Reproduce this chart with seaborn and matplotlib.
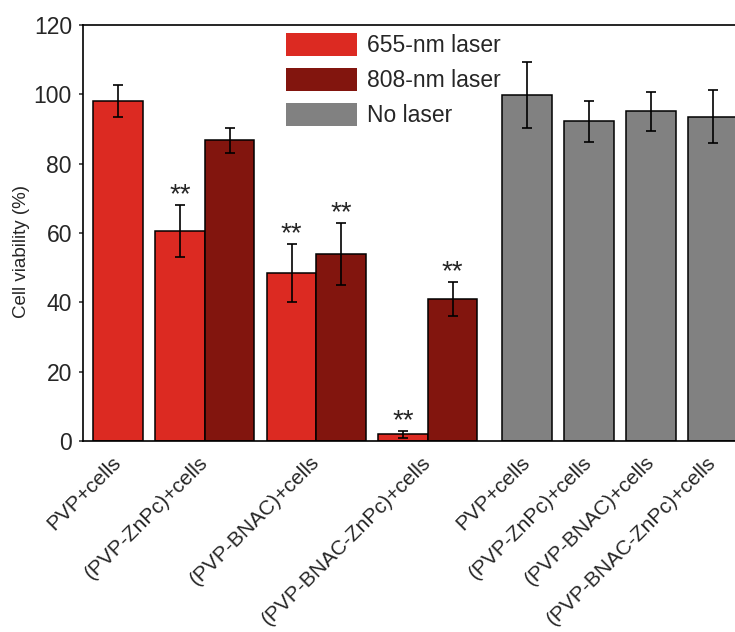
import numpy as np
import pandas as pd
import matplotlib
matplotlib.use('Agg')
import matplotlib.pyplot as plt
from matplotlib.patches import Patch
import seaborn as sns

# %%
bar_group = ['PVP+cells', '(PVP-ZnPc)+cells', '(PVP-ZnPc)+cells',
             '(PVP-BNAC)+cells', '(PVP-BNAC)+cells',
             '(PVP-BNAC-ZnPc)+cells', '(PVP-BNAC-ZnPc)+cells',
             'PVP+cells', '(PVP-ZnPc)+cells', '(PVP-BNAC)+cells', '(PVP-BNAC-ZnPc)+cells']
bar_laser = ['655-nm laser', '655-nm laser', '808-nm laser',
             '655-nm laser', '808-nm laser',
             '655-nm laser', '808-nm laser',
             'No laser', 'No laser', 'No laser', 'No laser']
viability = [98.1, 60.6, 86.7, 48.5, 54.0, 1.9, 41.0, 99.8, 92.2, 95.1, 93.6]
error = [4.7, 7.5, 3.7, 8.3, 9.0, 0.9, 4.9, 9.5, 6.0, 5.7, 7.7]
significant = [False, True, False, True, True, True, True, False, False, False, False]
laser_order = ['655-nm laser', '808-nm laser', 'No laser']

palette = {'655-nm laser': '#dc2a22', '808-nm laser': '#82150e', 'No laser': '#818181'}

# %%
# bars of one sample sit side by side, samples separated by a small gap,
# extra gap between the irradiated and the non-irradiated block
BAR_W = 0.8
GAP = 0.2
pos = []
keys = []
x = 0.0
prev = None
for g, l in zip(bar_group, bar_laser):
    key = (l == 'No laser', g)
    if prev is not None:
        x += BAR_W
        if key != prev:
            x += GAP
            if key[0] != prev[0]:
                x += GAP
    pos.append(round(x, 3))
    keys.append(key)
    prev = key

df = pd.DataFrame({'group': bar_group, 'laser': bar_laser, 'pos': pos,
                   'viability': viability, 'err': error, 'sig': significant,
                   'key': keys})
ticks = df.groupby('key', sort=False).pos.mean()
tick_labels = [k[1] for k in ticks.index]

# %%
sns.set_theme(style='ticks')
plt.rcParams['font.family'] = ['Liberation Sans', 'DejaVu Sans']

fig = plt.figure(figsize=(7.35, 6.32), dpi=100)
ax = fig.add_axes([83 / 735, 1 - 441 / 632, (744 - 83) / 735, 416 / 632])

sns.barplot(data=df, x='pos', y='viability', hue='laser', hue_order=laser_order,
            palette=palette, saturation=1, native_scale=True, dodge=False, width=1.0,
            errorbar=None, edgecolor='black', linewidth=1.1, legend=False, ax=ax)
ax.errorbar(df.pos, df.viability, yerr=df.err, fmt='none', ecolor='black',
            elinewidth=1.2, capsize=3.4, capthick=1.2, zorder=5)

for p, v, e, s in zip(df.pos, df.viability, df.err, df.sig):
    if s:
        ax.text(p, v + e + 0.8, '**', ha='center', va='baseline', fontsize=20)

ax.set_xlim(-0.565, 10.1)
ax.set_ylim(0, 120)
ax.set_yticks(np.arange(0, 121, 20))
ax.tick_params(axis='y', labelsize=16.5, length=3, width=1.1, direction='out', pad=5)
ax.set_xticks(ticks.values)
ax.set_xticklabels(tick_labels, rotation=45, ha='right', va='center',
                   rotation_mode='anchor', fontsize=15)
ax.tick_params(axis='x', length=0, pad=13)
ax.set_xlabel('')
ax.set_ylabel('Cell viability (%)', fontsize=13.5)
ax.yaxis.set_label_coords(-0.08, 0.455)
for sp in ax.spines.values():
    sp.set_linewidth(1.2)
    sp.set_color('black')

handles = [Patch(facecolor=palette[l], edgecolor='none') for l in laser_order]
fig.legend(handles, laser_order, loc='upper left',
           bbox_to_anchor=(286 / 735, 1 - 33 / 632), frameon=False, fontsize=16.5,
           handlelength=3.1, handleheight=1.2, handletextpad=0.45,
           labelspacing=0.45, borderpad=0, borderaxespad=0)

fig.savefig('out.png', dpi=100, facecolor='white')
